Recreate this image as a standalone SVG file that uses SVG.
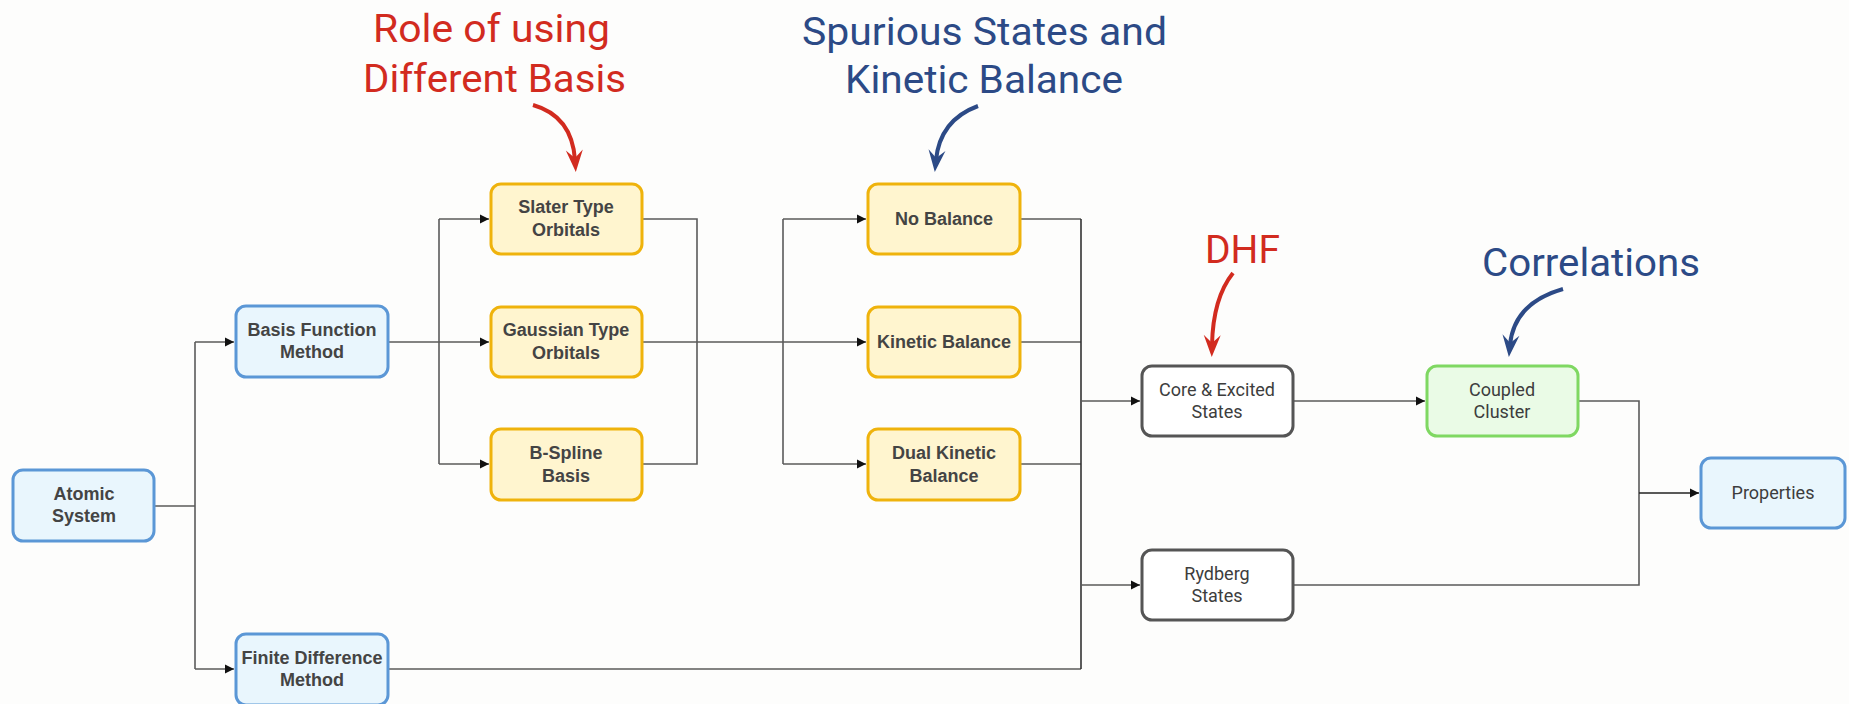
<svg xmlns="http://www.w3.org/2000/svg" width="1849" height="704" viewBox="0 0 1849 704">
  <style>
    .box { stroke-width: 3; }
    .blue { fill: #e9f6fd; stroke: #5b97d6; }
    .yellow { fill: #fff5cf; stroke: #efb30c; }
    .gray { fill: #ffffff; stroke: #555555; }
    .green { fill: #eafbe6; stroke: #7fd862; }
    .lbl { font-family: "Liberation Sans", Arial, sans-serif; font-weight: bold; font-size: 18px; fill: #444444; text-anchor: middle; }
    .lbl2 { font-family: Roboto, "Liberation Sans", sans-serif; font-size: 18px; fill: #3d3d3d; text-anchor: middle; }
    .conn { fill: none; stroke: #5a5a5a; stroke-width: 1.6; }
    .note { font-family: Roboto, "Liberation Sans", sans-serif; font-weight: normal; font-size: 39px; }
    .red { fill: #d22b1f; }
    .navy { fill: #2c4a86; }
    .curveRed { fill: none; stroke: #d22b1f; stroke-width: 4; }
    .curveNavy { fill: none; stroke: #2c4a86; stroke-width: 4; }
  </style>
  <defs>
    <marker id="tri" markerUnits="userSpaceOnUse" markerWidth="12" markerHeight="12" refX="0" refY="0" orient="auto" overflow="visible">
      <path d="M0,0 L-9,-4.5 L-9,4.5 Z" fill="#111"/>
    </marker>
    <marker id="barbRed" markerUnits="userSpaceOnUse" markerWidth="30" markerHeight="30" refX="-12" refY="0" orient="auto" overflow="visible">
      <path d="M0,0 L-22,-8.5 L-14,0 L-22,8.5 Z" fill="#d22b1f"/>
    </marker>
    <marker id="barbNavy" markerUnits="userSpaceOnUse" markerWidth="30" markerHeight="30" refX="-12" refY="0" orient="auto" overflow="visible">
      <path d="M0,0 L-22,-8.5 L-14,0 L-22,8.5 Z" fill="#2c4a86"/>
    </marker>
  </defs>

  <rect width="1849" height="704" fill="#fdfdfc"/>

  <!-- connectors -->
  <g id="connectors">
    <!-- Atomic System split -->
    <path class="conn" d="M155,506 H195"/>
    <path class="conn" d="M195,342 V669"/>
    <path class="conn" d="M195,342 H234" marker-end="url(#tri)"/>
    <path class="conn" d="M195,669 H234" marker-end="url(#tri)"/>
    <!-- Basis Function to basis types -->
    <path class="conn" d="M389,342 H489" marker-end="url(#tri)"/>
    <path class="conn" d="M439,219 V464"/>
    <path class="conn" d="M439,219 H489" marker-end="url(#tri)"/>
    <path class="conn" d="M439,464 H489" marker-end="url(#tri)"/>
    <!-- basis types collector -->
    <path class="conn" d="M643,219 H697 V464 H643"/>
    <path class="conn" d="M643,342 H783"/>
    <!-- balance split -->
    <path class="conn" d="M783,219 V464"/>
    <path class="conn" d="M783,219 H866" marker-end="url(#tri)"/>
    <path class="conn" d="M783,342 H866" marker-end="url(#tri)"/>
    <path class="conn" d="M783,464 H866" marker-end="url(#tri)"/>
    <!-- balance collector with finite difference -->
    <path class="conn" d="M1021,219 H1081"/>
    <path class="conn" d="M1021,342 H1081"/>
    <path class="conn" d="M1021,464 H1081"/>
    <path class="conn" d="M389,669 H1081"/>
    <path class="conn" d="M1081,219 V669" style="stroke:#333"/>
    <path class="conn" d="M1081,401 H1140" marker-end="url(#tri)"/>
    <path class="conn" d="M1081,585 H1140" marker-end="url(#tri)"/>
    <!-- states to correlations and properties -->
    <path class="conn" d="M1294,401 H1425" marker-end="url(#tri)"/>
    <path class="conn" d="M1579,401 H1639 V585 H1294"/>
    <path class="conn" d="M1639,493 H1699" marker-end="url(#tri)" style="stroke:#222"/>
  </g>

  <!-- nodes -->
  <g id="atomic-system">
    <rect class="box blue" x="13" y="470" width="141" height="71" rx="10"/>
    <text class="lbl" x="84" y="500">Atomic</text>
    <text class="lbl" x="84" y="522">System</text>
  </g>
  <g id="basis-function-method">
    <rect class="box blue" x="236" y="306" width="152" height="71" rx="10"/>
    <text class="lbl" x="312" y="336">Basis Function</text>
    <text class="lbl" x="312" y="358">Method</text>
  </g>
  <g id="finite-difference-method">
    <rect class="box blue" x="236" y="634" width="152" height="71" rx="10"/>
    <text class="lbl" x="312" y="664">Finite Difference</text>
    <text class="lbl" x="312" y="686">Method</text>
  </g>
  <g id="slater-type-orbitals">
    <rect class="box yellow" x="491" y="184" width="151" height="70" rx="10"/>
    <text class="lbl" x="566" y="213">Slater Type</text>
    <text class="lbl" x="566" y="236">Orbitals</text>
  </g>
  <g id="gaussian-type-orbitals">
    <rect class="box yellow" x="491" y="307" width="151" height="70" rx="10"/>
    <text class="lbl" x="566" y="336">Gaussian Type</text>
    <text class="lbl" x="566" y="359">Orbitals</text>
  </g>
  <g id="b-spline-basis">
    <rect class="box yellow" x="491" y="429" width="151" height="71" rx="10"/>
    <text class="lbl" x="566" y="459">B-Spline</text>
    <text class="lbl" x="566" y="482">Basis</text>
  </g>
  <g id="no-balance">
    <rect class="box yellow" x="868" y="184" width="152" height="70" rx="10"/>
    <text class="lbl" x="944" y="225">No Balance</text>
  </g>
  <g id="kinetic-balance">
    <rect class="box yellow" x="868" y="307" width="152" height="70" rx="10"/>
    <text class="lbl" x="944" y="348">Kinetic Balance</text>
  </g>
  <g id="dual-kinetic-balance">
    <rect class="box yellow" x="868" y="429" width="152" height="71" rx="10"/>
    <text class="lbl" x="944" y="459">Dual Kinetic</text>
    <text class="lbl" x="944" y="482">Balance</text>
  </g>
  <g id="core-excited-states">
    <rect class="box gray" x="1142" y="366" width="151" height="70" rx="10"/>
    <text class="lbl2" x="1217" y="396">Core &amp; Excited</text>
    <text class="lbl2" x="1217" y="418">States</text>
  </g>
  <g id="rydberg-states">
    <rect class="box gray" x="1142" y="550" width="151" height="70" rx="10"/>
    <text class="lbl2" x="1217" y="580">Rydberg</text>
    <text class="lbl2" x="1217" y="602">States</text>
  </g>
  <g id="coupled-cluster">
    <rect class="box green" x="1427" y="366" width="151" height="70" rx="10"/>
    <text class="lbl2" x="1502" y="396">Coupled</text>
    <text class="lbl2" x="1502" y="418">Cluster</text>
  </g>
  <g id="properties">
    <rect class="box blue" x="1701" y="458" width="144" height="70" rx="10"/>
    <text class="lbl2" x="1773" y="499">Properties</text>
  </g>

  <!-- annotations -->
  <g id="note-basis">
    <text class="note red" x="373" y="42" textLength="237" lengthAdjust="spacingAndGlyphs">Role of using</text>
    <text class="note red" x="363" y="92" textLength="263" lengthAdjust="spacingAndGlyphs">Different Basis</text>
    <path class="curveRed" d="M533,105 Q572,116 575,160" marker-end="url(#barbRed)"/>
  </g>
  <g id="note-balance">
    <text class="note navy" x="802" y="45" textLength="365" lengthAdjust="spacingAndGlyphs">Spurious States and</text>
    <text class="note navy" x="845" y="93" textLength="278" lengthAdjust="spacingAndGlyphs">Kinetic Balance</text>
    <path class="curveNavy" d="M978,106 Q940,120 936,160" marker-end="url(#barbNavy)"/>
  </g>
  <g id="note-dhf">
    <text class="note red" x="1205" y="263" textLength="75" lengthAdjust="spacingAndGlyphs">DHF</text>
    <path class="curveRed" d="M1233,273 Q1213,298 1212,345" marker-end="url(#barbRed)"/>
  </g>
  <g id="note-correlations">
    <text class="note navy" x="1482" y="276" textLength="218" lengthAdjust="spacingAndGlyphs">Correlations</text>
    <path class="curveNavy" d="M1563,289 Q1514,303 1510,345" marker-end="url(#barbNavy)"/>
  </g>
</svg>
